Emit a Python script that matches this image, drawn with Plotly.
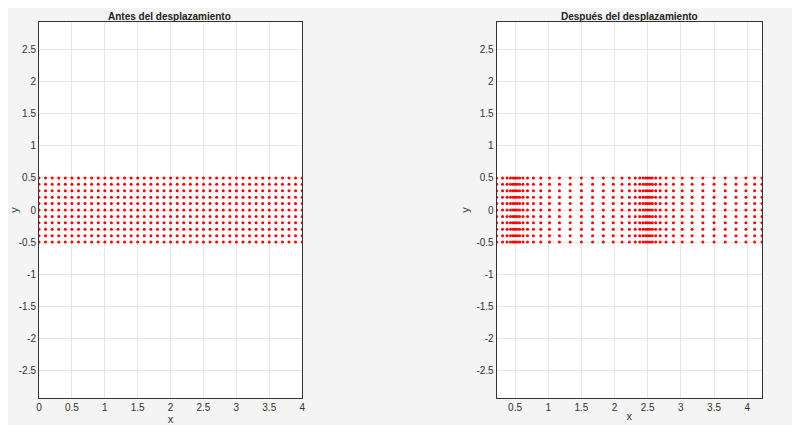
import plotly.graph_objects as go
from plotly.subplots import make_subplots

# grid before displacement
x_before = [round(i * 0.1, 1) for i in range(41)]
y_rows = [-0.5, -0.4, -0.3, -0.2, -0.1, 0.0, 0.1, 0.2, 0.3, 0.4, 0.5]
# grid columns after displacement
x_after = [0.223, 0.312, 0.380, 0.431, 0.469, 0.5, 0.531, 0.569, 0.620, 0.688,
           0.777, 0.888, 1.020, 1.169, 1.331, 1.5, 1.669, 1.831, 1.980, 2.112,
           2.223, 2.312, 2.380, 2.431, 2.469, 2.5, 2.531, 2.569, 2.620, 2.688,
           2.777, 2.888, 3.020, 3.169, 3.331, 3.5, 3.669, 3.831, 3.980, 4.112, 4.223]

fig = make_subplots(rows=1, cols=2, horizontal_spacing=0.25)


def grid(xs):
    px, py = [], []
    for yv in y_rows:
        for xv in xs:
            px.append(xv)
            py.append(yv)
    return px, py


for col, xs in ((1, x_before), (2, x_after)):
    gx, gy = grid(xs)
    fig.add_trace(go.Scatter(x=gx, y=gy, mode="markers",
                             marker=dict(color="red", size=3),
                             showlegend=False), row=1, col=col)

tick_y = [-2.5, -2, -1.5, -1, -0.5, 0, 0.5, 1, 1.5, 2, 2.5]
axis_style = dict(showgrid=True, gridcolor="#e6e6e6", zeroline=False,
                  showline=True, linecolor="#333", mirror=True, ticks="",
                  automargin=False, tickfont=dict(size=10, color="#333"))
fig.update_yaxes(range=[-2.93, 2.93], tickvals=tick_y,
                 ticktext=["-2.5", "-2", "-1.5", "-1", "-0.5", "0", "0.5", "1", "1.5", "2", "2.5"],
                 title=dict(text="y", font=dict(size=11), standoff=4), **axis_style)
fig.update_xaxes(title=dict(text="x", font=dict(size=11), standoff=0), **axis_style)
fig.update_xaxes(range=[0, 4], tickvals=[0, 0.5, 1, 1.5, 2, 2.5, 3, 3.5, 4],
                 ticktext=["0", "0.5", "1", "1.5", "2", "2.5", "3", "3.5", "4"],
                 domain=[0.0, 0.364], row=1, col=1)
fig.update_xaxes(range=[0.223, 4.223], tickvals=[0.5, 1, 1.5, 2, 2.5, 3, 3.5, 4],
                 ticktext=["0.5", "1", "1.5", "2", "2.5", "3", "3.5", "4"],
                 domain=[0.633, 1.0], row=1, col=2)

fig.update_layout(
    width=800, height=425, autosize=False,
    paper_bgcolor="#f4f4f4", plot_bgcolor="white",
    margin=dict(l=31, r=46, t=14, b=35),
    font=dict(family="Arial, Liberation Sans", color="#333"),
    annotations=[
        dict(text="<b>Antes del desplazamiento</b>", x=0.181, y=1.0, xref="paper", yref="paper",
             xanchor="center", yanchor="bottom", yshift=-2, showarrow=False,
             font=dict(size=10, color="#222")),
        dict(text="<b>Después del desplazamiento</b>", x=0.817, y=1.0, xref="paper", yref="paper",
             xanchor="center", yanchor="bottom", yshift=-2, showarrow=False,
             font=dict(size=10, color="#222")),
    ],
)

fig.write_html("out.html")
